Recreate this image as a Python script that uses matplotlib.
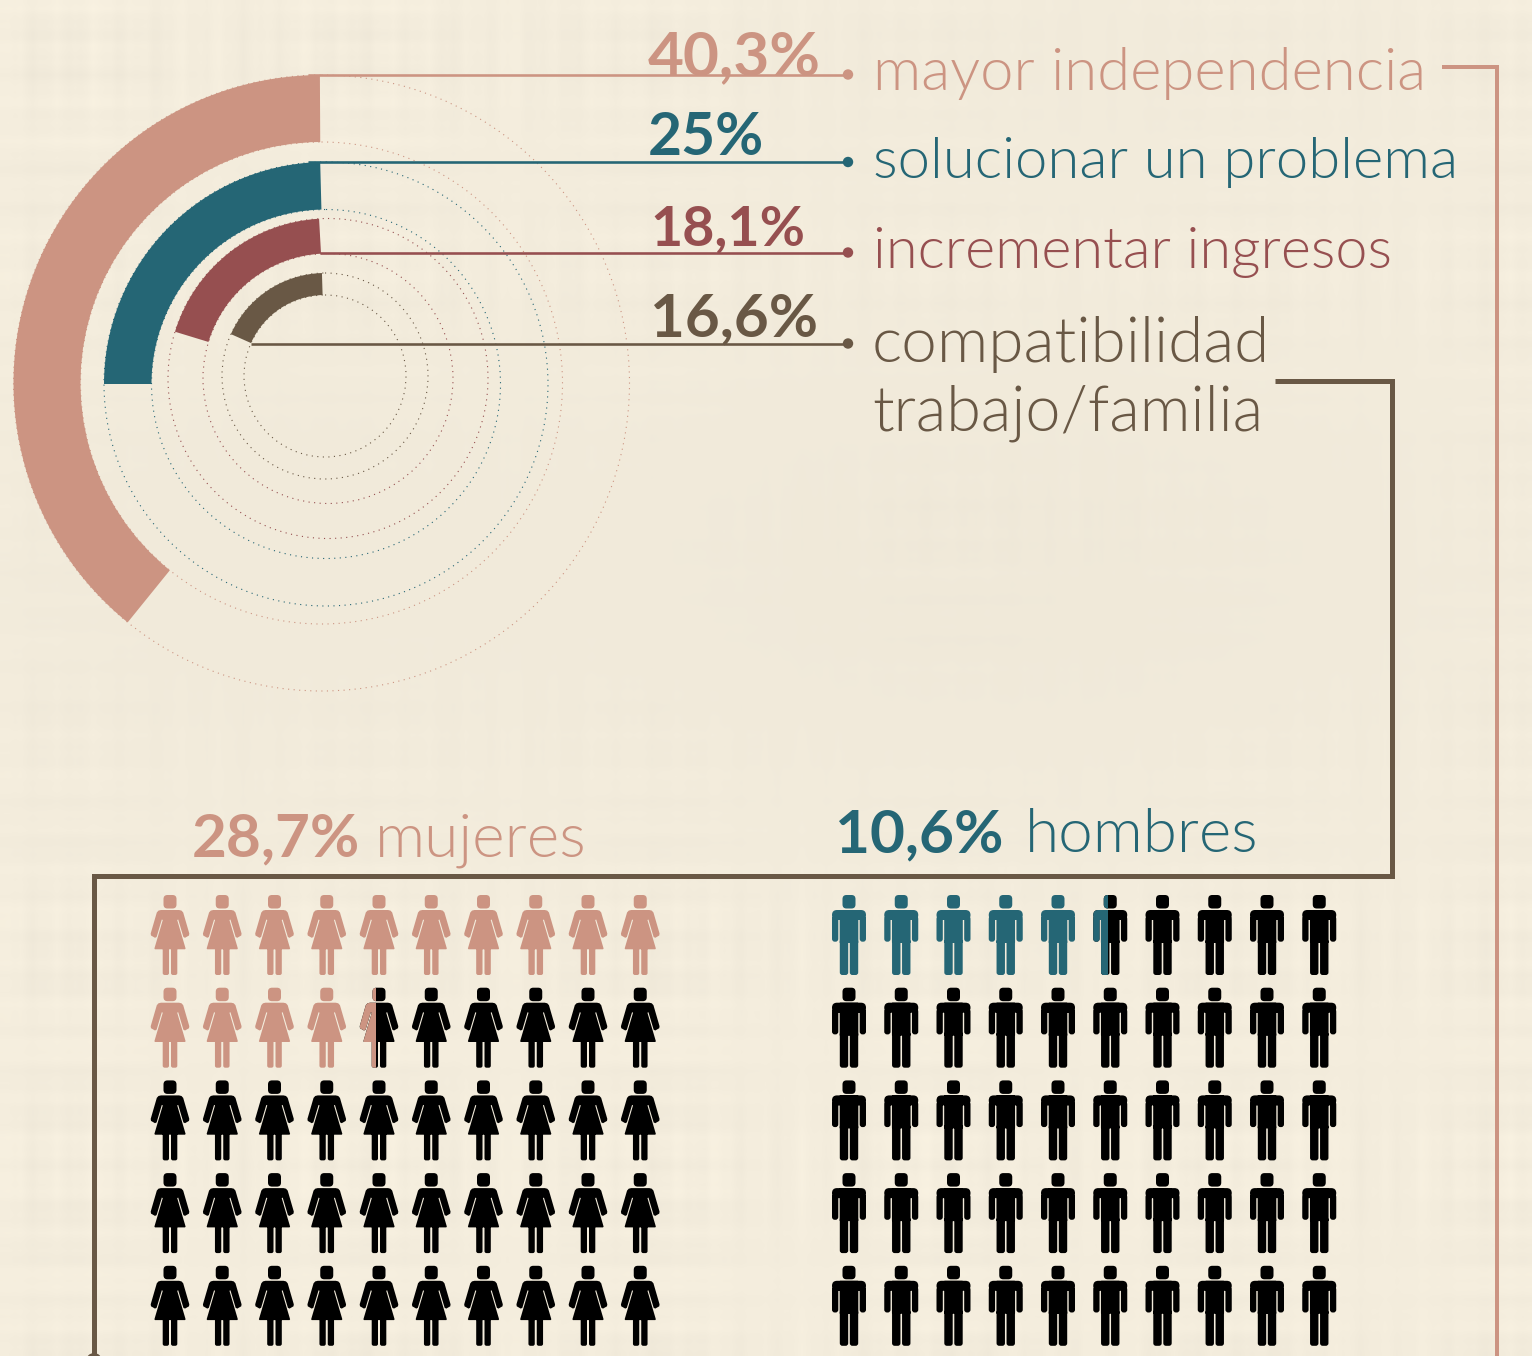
import numpy as np
import matplotlib
matplotlib.use("Agg")
import matplotlib.pyplot as plt
from matplotlib.patches import Wedge, Circle, PathPatch, Rectangle
from matplotlib.path import Path
from matplotlib.transforms import Affine2D

# ---------- data ----------
reasons = ["mayor independencia", "solucionar un problema", "incrementar ingresos",
           "compatibilidad\ntrabajo/familia"]
reason_values = [40.3, 25, 18.1, 16.6]
reason_labels = ["40,3%", "25%", "18,1%", "16,6%"]
arc_sweep_deg = [141, 90, 73, 66]          # drawn sweep of every ring

women_label, women_word = "28,7%", "mujeres"
men_label, men_word = "10,6%", "hombres"
women_icons_filled = 14.43                 # coloured icons out of 50
men_icons_filled = 5.43
icon_rows, icon_cols = 5, 10

# ---------- styles ----------
BG = "#F4EDDD"
SALMON, TEAL, RED, BROWN = "#CC9482", "#256675", "#964F50", "#695845"
ring_colors = [SALMON, TEAL, RED, BROWN]
# centre x, centre y, outer r, inner r, gap of the straight start edge in degrees
ring_geom = [(321.5, 383, 308, 241, 0.3), (326, 384, 222, 174.5, 1.5),
             (328, 378.5, 160, 125, 3.2), (325, 376, 103, 81, 1.7)]
leader_y = [74.5, 162, 252.5, 343.5]
leader_x0 = [308, 308, 320, 251]
LEADER_X1 = 848
value_pos = [(648, 75, 173), (648, 155, 116), (650, 245, 155), (650, 336, 168)]
label_pos = [(873, 90, 553), (873, 178, 584), (873, 268, 517), (872, 362, 398)]

W, H = 1532, 1356
PX = 0.72  # points per pixel at dpi 100
fig = plt.figure(figsize=(W / 100, H / 100), dpi=100, facecolor=BG)
ax = fig.add_axes([0, 0, 1, 1])
ax.set_xlim(0, W)
ax.set_ylim(H, 0)
ax.axis("off")

# ---------- woven paper background (deterministic) ----------
yy, xx = np.mgrid[0:H // 6, 0:W // 6]
warp = np.sin(xx * 0.91) + 0.7 * np.sin(xx * 2.13 + 1) + 0.5 * np.sin(xx * 0.37 + 2)
weft = np.sin(yy * 0.83 + 1) + 0.7 * np.sin(yy * 1.97) + 0.5 * np.sin(yy * 0.29 + 2)
weave = warp * (0.6 + 0.4 * np.sin(yy * 0.17)) + weft * (0.6 + 0.4 * np.sin(xx * 0.13))
shade = (np.exp(-(((xx * 6 - 1000) / 560) ** 2 + ((yy * 6 - 560) / 280) ** 2))
         + 0.6 * np.exp(-(((xx * 6 - 200) / 300) ** 2 + ((yy * 6 - 560) / 260) ** 2))
         + 0.5 * np.exp(-(((xx * 6 - 1100) / 420) ** 2 + ((yy * 6 - 60) / 140) ** 2)))
tone = 1.0 + 0.007 * weave - 0.016 * shade * (1 + 0.6 * weave)
base = np.array(matplotlib.colors.to_rgb(BG))
ax.imshow(np.clip(tone[..., None] * base, 0, 1), extent=(0, W, H, 0),
          interpolation="bilinear", aspect="auto", zorder=0)
ax.set_xlim(0, W)
ax.set_ylim(H, 0)

# ---------- rings ----------
for color, (cx, cy, ro, ri, gap), sweep in zip(ring_colors, ring_geom, arc_sweep_deg):
    for r in (ro, ri):
        ax.add_patch(Circle((cx, cy), r, fill=False, ec=color, lw=0.8,
                            ls=(0, (1, 4)), zorder=1))
    # y axis points down: the top of the ring is at 270 degrees
    ax.add_patch(Wedge((cx, cy), ro, 270 - sweep, 270 - gap, width=ro - ri,
                       fc=color, ec="none", zorder=2))

# ---------- leaders ----------
for color, y, x0 in zip(ring_colors, leader_y, leader_x0):
    ax.plot([x0, LEADER_X1], [y, y], color=color, lw=2.6 * PX, solid_capstyle="butt", zorder=3)
    ax.add_patch(Circle((LEADER_X1, y), 5.2, fc=color, ec="none", zorder=3))

ax.plot([1442, 1497, 1497], [67, 67, H + 5], color=SALMON, lw=4 * PX,
        solid_joinstyle="miter", solid_capstyle="butt", zorder=1)
ax.plot([1275, 1392, 1392, 94, 94], [381, 381, 876, 876, H + 5], color=BROWN, lw=5 * PX,
        solid_joinstyle="miter", solid_capstyle="butt", zorder=1)
ax.add_patch(Circle((94, 1361), 8, fc=BROWN, ec="none", zorder=1))

# ---------- text ----------
renderer = fig.canvas.get_renderer()


def fit_text(x, y, s, width, color, weight, family="Lato"):
    """Baseline-anchored text whose size is chosen to fill the measured width."""
    t = ax.text(x, y, s, color=color, family=family, weight=weight, fontsize=40,
                ha="left", va="baseline", zorder=4, linespacing=1.0)
    w = t.get_window_extent(renderer).width
    t.set_fontsize(40 * width / w)
    return t


LIGHT = 300
for s, (x, y, w), c in zip(reason_labels, value_pos, ring_colors):
    fit_text(x, y, s, w, c, "bold")
for s, (x, y, w), c in zip(reasons[:3], label_pos[:3], ring_colors[:3]):
    fit_text(x, y, s, w, c, LIGHT)
line1, line2 = reasons[3].split("\n")
fit_text(872, 362, line1, 398, BROWN, LIGHT)
fit_text(872, 431, line2, 391, BROWN, LIGHT)

fit_text(192, 856, women_label, 168, SALMON, "bold")
fit_text(375, 856, women_word, 212, SALMON, LIGHT)
fit_text(835, 852, men_label, 168, TEAL, "bold")
fit_text(1025, 852, men_word, 233, TEAL, LIGHT)


# ---------- icon shapes (in pixels relative to head-top centre) ----------
def rrect(x0, y0, x1, y1, r):
    v = [(x0 + r, y0), (x1 - r, y0), (x1, y0), (x1, y0 + r), (x1, y1 - r), (x1, y1),
         (x1 - r, y1), (x0 + r, y1), (x0, y1), (x0, y1 - r), (x0, y0 + r), (x0, y0),
         (x0 + r, y0), (x0 + r, y0)]
    c = [Path.MOVETO, Path.LINETO, Path.CURVE3, Path.CURVE3, Path.LINETO, Path.CURVE3, Path.CURVE3,
         Path.LINETO, Path.CURVE3, Path.CURVE3, Path.LINETO, Path.CURVE3, Path.CURVE3, Path.CLOSEPOLY]
    return Path(v, c)


def poly(pts):
    a = np.asarray(pts, float)
    x, y = a[:, 0], a[:, 1]
    if np.dot(x, np.roll(y, -1)) - np.dot(y, np.roll(x, -1)) < 0:
        a = a[::-1]
    return Path(np.vstack([a, a[0]]), closed=True)


half = [(0, 15), (-9, 15), (-11.5, 15.6), (-13.2, 17.5), (-19.3, 38.5), (-19, 40.5), (-15, 42.8),
        (-13.4, 42), (-8.2, 24.5), (-7.2, 25), (-15.6, 53.5), (-15, 54.3), (0, 54.3)]
woman_outline = half + [(-x, y) for x, y in half[::-1][1:-1]]
WOMAN = Path.make_compound_path(
    rrect(-6.5, 0, 6.5, 13.5, 4),
    poly(woman_outline),
    rrect(-7.3, 52, -1, 80, 2),
    rrect(1, 52, 7.3, 80, 2),
)
MAN = Path.make_compound_path(
    rrect(-6.5, 0, 6.5, 13.5, 4),
    rrect(-17, 21, -10.7, 46.7, 2.8),
    rrect(10.7, 21, 17, 46.7, 2.8),
    rrect(-17, 15, 17, 25, 5),
    rrect(-9.3, 15, 9.3, 48, 0.5),
    rrect(-9.2, 44, -0.8, 80, 2.6),
    rrect(0.8, 44, 9.2, 80, 2.6),
)


def icon_grid(shape, half_w, x0, color, filled):
    dx, dy, y0 = 52.25, 92.7, 895
    for row in range(icon_rows):
        for col in range(icon_cols):
            n = row * icon_cols + col
            cx, top = x0 + col * dx, y0 + row * dy
            tr = Affine2D().translate(cx, top) + ax.transData
            frac = float(np.clip(filled - n, 0, 1))
            if frac < 1:
                ax.add_patch(PathPatch(shape, fc="black", ec="none", transform=tr, zorder=3))
            if frac > 0:
                p = PathPatch(shape, fc=color, ec="none", transform=tr, zorder=4)
                ax.add_patch(p)
                if frac < 1:
                    clip = Rectangle((cx - half_w, top - 1), 2 * half_w * frac, 84, transform=ax.transData)
                    p.set_clip_path(clip)


icon_grid(WOMAN, 19.3, 170, SALMON, women_icons_filled)
icon_grid(MAN, 17, 849, TEAL, men_icons_filled)

fig.savefig("out.png", dpi=100, facecolor=BG)
